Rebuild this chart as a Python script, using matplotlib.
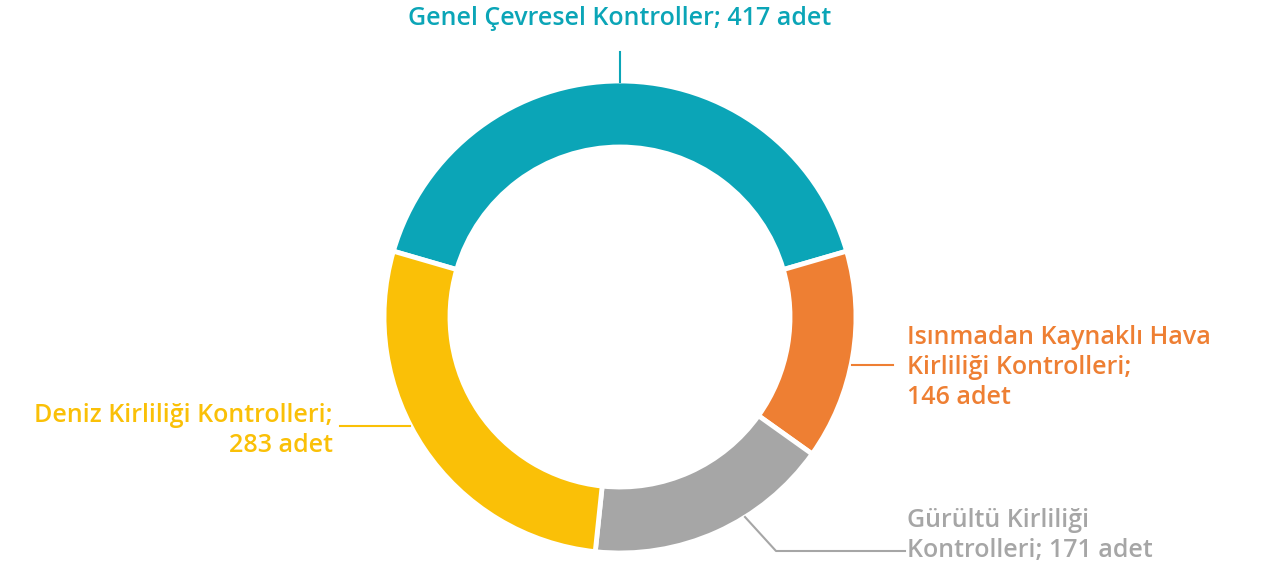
import matplotlib.pyplot as plt

# Veriler
labels = ["Genel Çevresel Kontroller; 417 adet",
          "Isınmadan Kaynaklı Hava\nKirliliği Kontrolleri;\n146 adet",
          "Gürültü Kirliliği\nKontrolleri; 171 adet",
          "Deniz Kirliliği Kontrolleri;\n283 adet"]
values = [417, 146, 171, 283]
colors = ["#0BA5B7", "#EE7F33", "#A6A6A6", "#FAC007"]

W, H = 1265, 567
fig = plt.figure(figsize=(W / 100, H / 100), dpi=100)
ax = fig.add_axes([0, 0, 1, 1])

# ilk dilim üstte ortalansın
start = 90 + 360 * values[0] / sum(values) / 2
cx, cy, r = 620, H - 317, 236
ax.pie(values, colors=colors, startangle=start, counterclock=False,
       center=(cx, cy), radius=r,
       wedgeprops=dict(width=66, edgecolor="white", linewidth=3.5))

ax.set_xlim(0, W)
ax.set_ylim(0, H)
ax.set_aspect("equal")
ax.axis("off")

fnt = dict(family="Open Sans", fontsize=18, fontweight="semibold", va="baseline", linespacing=1.27)

# Genel Çevresel
ax.plot([620, 620], [H - 52, H - 82], color=colors[0], lw=1.5)
ax.text(620, H - 25, labels[0], color=colors[0], ha="center", **fnt)

# Isınmadan
ax.plot([852, 893], [H - 365, H - 365], color=colors[1], lw=1.5)
ax.text(907, H - 404, labels[1], color=colors[1], ha="left", **fnt)

# Gürültü
ax.plot([745, 776, 905], [H - 517, H - 551, H - 551], color=colors[2], lw=1.5)
ax.text(907, H - 557, labels[2], color=colors[2], ha="left", **fnt)

# Deniz
ax.plot([340, 410], [H - 426, H - 426], color=colors[3], lw=1.5)
ax.text(333, H - 452, labels[3], color=colors[3], ha="right", multialignment="right", **fnt)

fig.savefig("out.png", dpi=100, facecolor="white")
